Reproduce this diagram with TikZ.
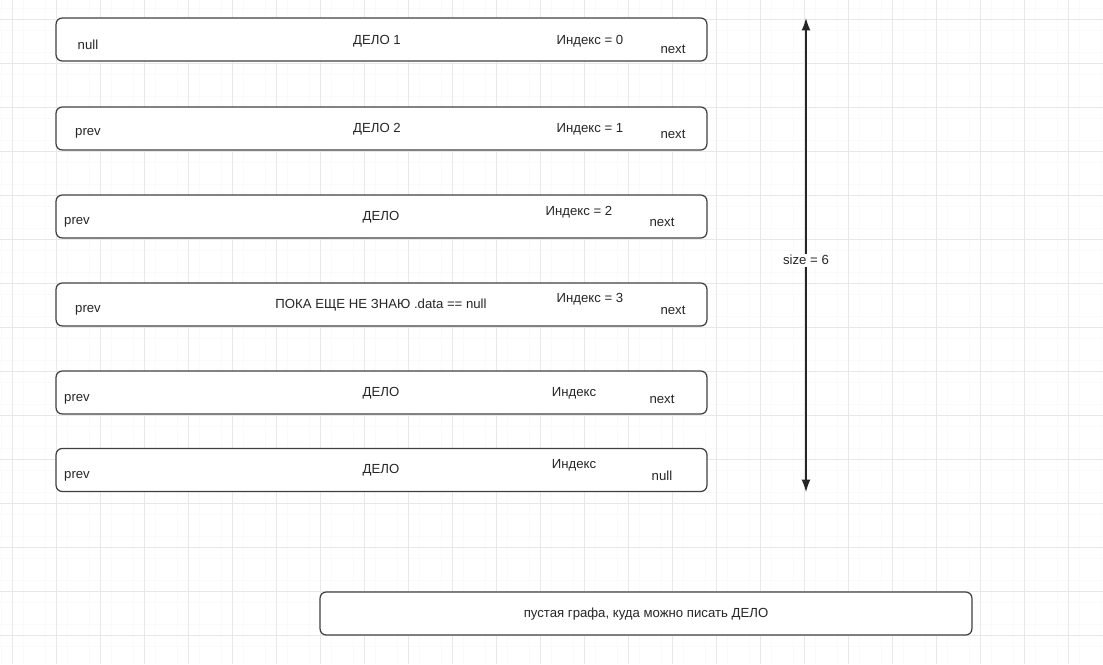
\documentclass[tikz,border=0pt]{standalone}
\usepackage{fontspec}
\setmainfont{Liberation Sans}
\usetikzlibrary{positioning,arrows.meta}

\tikzset{
  minorgrid/.style={draw=black!2, line width=0.4pt},
  majorgrid/.style={draw=black!9, line width=0.5pt},
  itembox/.style={draw=black!75, line width=0.7pt, rounded corners=3.5pt, fill=white,
    minimum width=13.02cm, minimum height=0.86cm, inner sep=0pt},
  lbl/.style={font=\fontsize{7.5}{8}\selectfont, inner sep=0pt, text=black!85},
}

\begin{document}
\begin{tikzpicture}[x=0.02cm, y=-0.02cm]
        \useasboundingbox (0,0) rectangle (1103,664);
        \fill[white] (0,0) rectangle (1103,664); % paper
        % background grid
        \foreach \gx in {1,23,...,1103} \draw[minorgrid] (\gx,0) -- (\gx,664);
        \foreach \gy in {8,30,...,664} \draw[minorgrid] (0,\gy) -- (1103,\gy);
        \foreach \gx in {12,56,...,1103} \draw[majorgrid] (\gx,0) -- (\gx,664);
        \foreach \gy in {19,63,...,664} \draw[majorgrid] (0,\gy) -- (1103,\gy);

        % list items
        \node[itembox] (item1) at (381.5,39.5) {};
        \node[itembox] (item2) at (381.5,128.5) {};
        \node[itembox] (item3) at (381.5,216.5) {};
        \node[itembox] (item4) at (381.5,304.5) {};
        \node[itembox] (item5) at (381.5,392.5) {};
        \node[itembox] (item6) at (381.5,470) {};

        % item 1
        \node[lbl] (left1) at (88,45) {null};
        \node[lbl] (data1) at (377,41) {ДЕЛО 1};
        \node[lbl] (idx1) at (590,41) {Индекс = 0};
        \node[lbl] (right1) at (673,49) {next};
        % item 2
        \node[lbl] (left2) at (88,133) {prev};
        \node[lbl] (data2) at (377,129) {ДЕЛО 2};
        \node[lbl] (idx2) at (590,129) {Индекс = 1};
        \node[lbl] (right2) at (673,134) {next};
        % item 3
        \node[lbl] (left3) at (77,222) {prev};
        \node[lbl] (data3) at (381,217) {ДЕЛО};
        \node[lbl] (idx3) at (579,212) {Индекс = 2};
        \node[lbl] (right3) at (662,222) {next};
        % item 4
        \node[lbl] (left4) at (88,310) {prev};
        \node[lbl] (data4) at (381,305) {ПОКА ЕЩЕ НЕ ЗНАЮ .data == null};
        \node[lbl] (idx4) at (590,299) {Индекс = 3};
        \node[lbl] (right4) at (673,310) {next};
        % item 5
        \node[lbl] (left5) at (77,399) {prev};
        \node[lbl] (data5) at (381,393) {ДЕЛО};
        \node[lbl] (idx5) at (574,393) {Индекс};
        \node[lbl] (right5) at (662,399) {next};
        % item 6
        \node[lbl] (left6) at (77,476) {prev};
        \node[lbl] (data6) at (381,470) {ДЕЛО};
        \node[lbl] (idx6) at (574,465) {Индекс};
        \node[lbl] (right6) at (662,476) {null};

        % size of the list
        \coordinate (sizetop) at (806,18);
        \coordinate (sizebot) at (806,492);
        \draw[{Latex[length=7pt,width=5pt]}-{Latex[length=7pt,width=5pt]}, line width=0.7pt, black!85] (sizetop) -- (sizebot)
        node[fill=white, inner sep=1pt, font=\fontsize{7.5}{8}\selectfont, pos=0.511] (sizelbl) {size = 6};

        % empty slot
        \node[itembox, minimum width=13.04cm] (slot) at (646,613.5) {};
        \node[lbl] (slottext) at (646,614) {пустая графа, куда можно писать ДЕЛО};
    \end{tikzpicture}
\end{document}
